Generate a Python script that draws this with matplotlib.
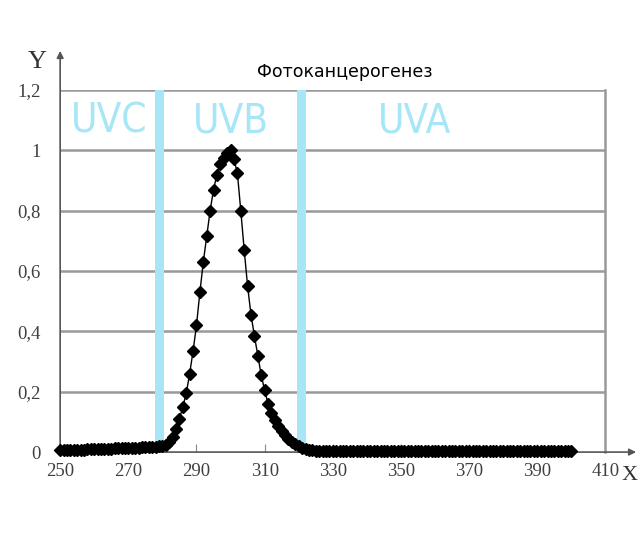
import matplotlib
matplotlib.use("Agg")
import matplotlib.pyplot as plt

# wavelength grid, nm
wavelength = list(range(250, 401))

# relative photocarcinogenic efficiency
baseline_left = [0.006, 0.006, 0.007, 0.007, 0.007, 0.008, 0.008, 0.008, 0.009, 0.009,
                 0.009, 0.010, 0.010, 0.010, 0.011, 0.011, 0.012, 0.012, 0.013, 0.013,
                 0.014, 0.014, 0.015, 0.015, 0.016, 0.016, 0.017, 0.017, 0.018, 0.019]
peak = [0.020, 0.024, 0.032, 0.050, 0.078, 0.110, 0.150, 0.195, 0.260, 0.335,
        0.420, 0.530, 0.630, 0.715, 0.800, 0.870, 0.920, 0.955, 0.975, 0.990,
        1.000,
        0.970, 0.925, 0.800, 0.670, 0.550, 0.455, 0.385, 0.320, 0.255, 0.205,
        0.160, 0.130, 0.105, 0.087, 0.071, 0.057, 0.045, 0.035, 0.027, 0.020,
        0.014, 0.010, 0.008, 0.006, 0.005]
baseline_right = [0.004, 0.004, 0.004, 0.004, 0.004, 0.004, 0.004, 0.004, 0.004, 0.004,
                  0.003, 0.003, 0.003, 0.003, 0.003, 0.003, 0.003, 0.003, 0.003, 0.003,
                  0.003, 0.003, 0.003, 0.003, 0.003, 0.003, 0.003, 0.003, 0.003, 0.003,
                  0.002, 0.002, 0.002, 0.002, 0.002, 0.002, 0.002, 0.002, 0.002, 0.002,
                  0.002, 0.002, 0.002, 0.002, 0.002, 0.002, 0.002, 0.002, 0.002, 0.002,
                  0.002, 0.002, 0.002, 0.002, 0.002, 0.002, 0.002, 0.002, 0.002, 0.002,
                  0.002, 0.002, 0.002, 0.002, 0.002, 0.002, 0.002, 0.002, 0.002, 0.002,
                  0.002, 0.002, 0.002, 0.002, 0.002]
efficiency = baseline_left + peak + baseline_right

# UV band borders and labels
band_borders = [279.2, 320.7]
band_names = ["UVC", "UVB", "UVA"]
band_label_x = [264.5, 300, 354]

x_ticks = [250, 270, 290, 310, 330, 350, 370, 390, 410]
y_ticks = [0, 0.2, 0.4, 0.6, 0.8, 1.0, 1.2]
y_tick_labels = ["0", "0,2", "0,4", "0,6", "0,8", "1", "1,2"]

fig = plt.figure(figsize=(6.4, 5.46), dpi=100)
ax = fig.add_axes([0.094, 0.172, 0.852, 0.663])

ax.set_xlim(250, 410)
ax.set_ylim(0, 1.2)

# grid
for v in y_ticks[1:]:
    ax.axhline(v, color="#999999", lw=1.8, zorder=1)

# band separators
for b in band_borders:
    ax.axvspan(b - 1.3, b + 1.3, color="#a6e6f7", lw=0, zorder=2)

for name, bx in zip(band_names, band_label_x):
    ax.text(bx, 1.095, name, ha="center", va="center", color="#a6e6f7",
            fontsize=29, family="DejaVu Sans", fontstretch="condensed",
            fontweight="light", zorder=3)

ax.plot(wavelength, efficiency, color="black", lw=1, marker="D", ms=6,
        clip_on=False, zorder=5)

for side in ["top", "left", "bottom"]:
    ax.spines[side].set_visible(False)
ax.spines["right"].set_color("#999999")
ax.spines["right"].set_linewidth(1.8)

# axes with arrows
ax.annotate("", xy=(250, 1.33), xytext=(250, 0), annotation_clip=False,
            arrowprops=dict(arrowstyle="-|>", color="#555555", lw=1.2,
                            mutation_scale=10, shrinkA=0, shrinkB=0))
ax.annotate("", xy=(419, 0), xytext=(250, 0), annotation_clip=False,
            arrowprops=dict(arrowstyle="-|>", color="#555555", lw=1.2,
                            mutation_scale=10, shrinkA=0, shrinkB=0), zorder=4)

ax.set_xticks(x_ticks)
ax.set_xticklabels([str(t) for t in x_ticks])
ax.set_yticks(y_ticks)
ax.set_yticklabels(y_tick_labels)
ax.tick_params(axis="x", direction="in", length=6, color="#888888", pad=8,
               labelsize=13.5, labelcolor="#404040")
ax.tick_params(axis="y", length=0, pad=14, labelsize=13.5, labelcolor="#404040")
for lab in ax.get_xticklabels() + ax.get_yticklabels():
    lab.set_family("Liberation Serif")

fig.text(37 / 640, 1 - 62 / 546, "Y", ha="center", va="center", fontsize=19,
         family="Liberation Serif", color="#333333")
fig.text(638 / 640, 1 - 476 / 546, "X", ha="right", va="center", fontsize=16,
         family="Liberation Serif", color="#333333")
fig.text(345 / 640, 1 - 72 / 546, "Фотоканцерогенез", ha="center", va="center",
         fontsize=12.5, family="DejaVu Sans", color="black")

fig.savefig("out.png", dpi=100)
